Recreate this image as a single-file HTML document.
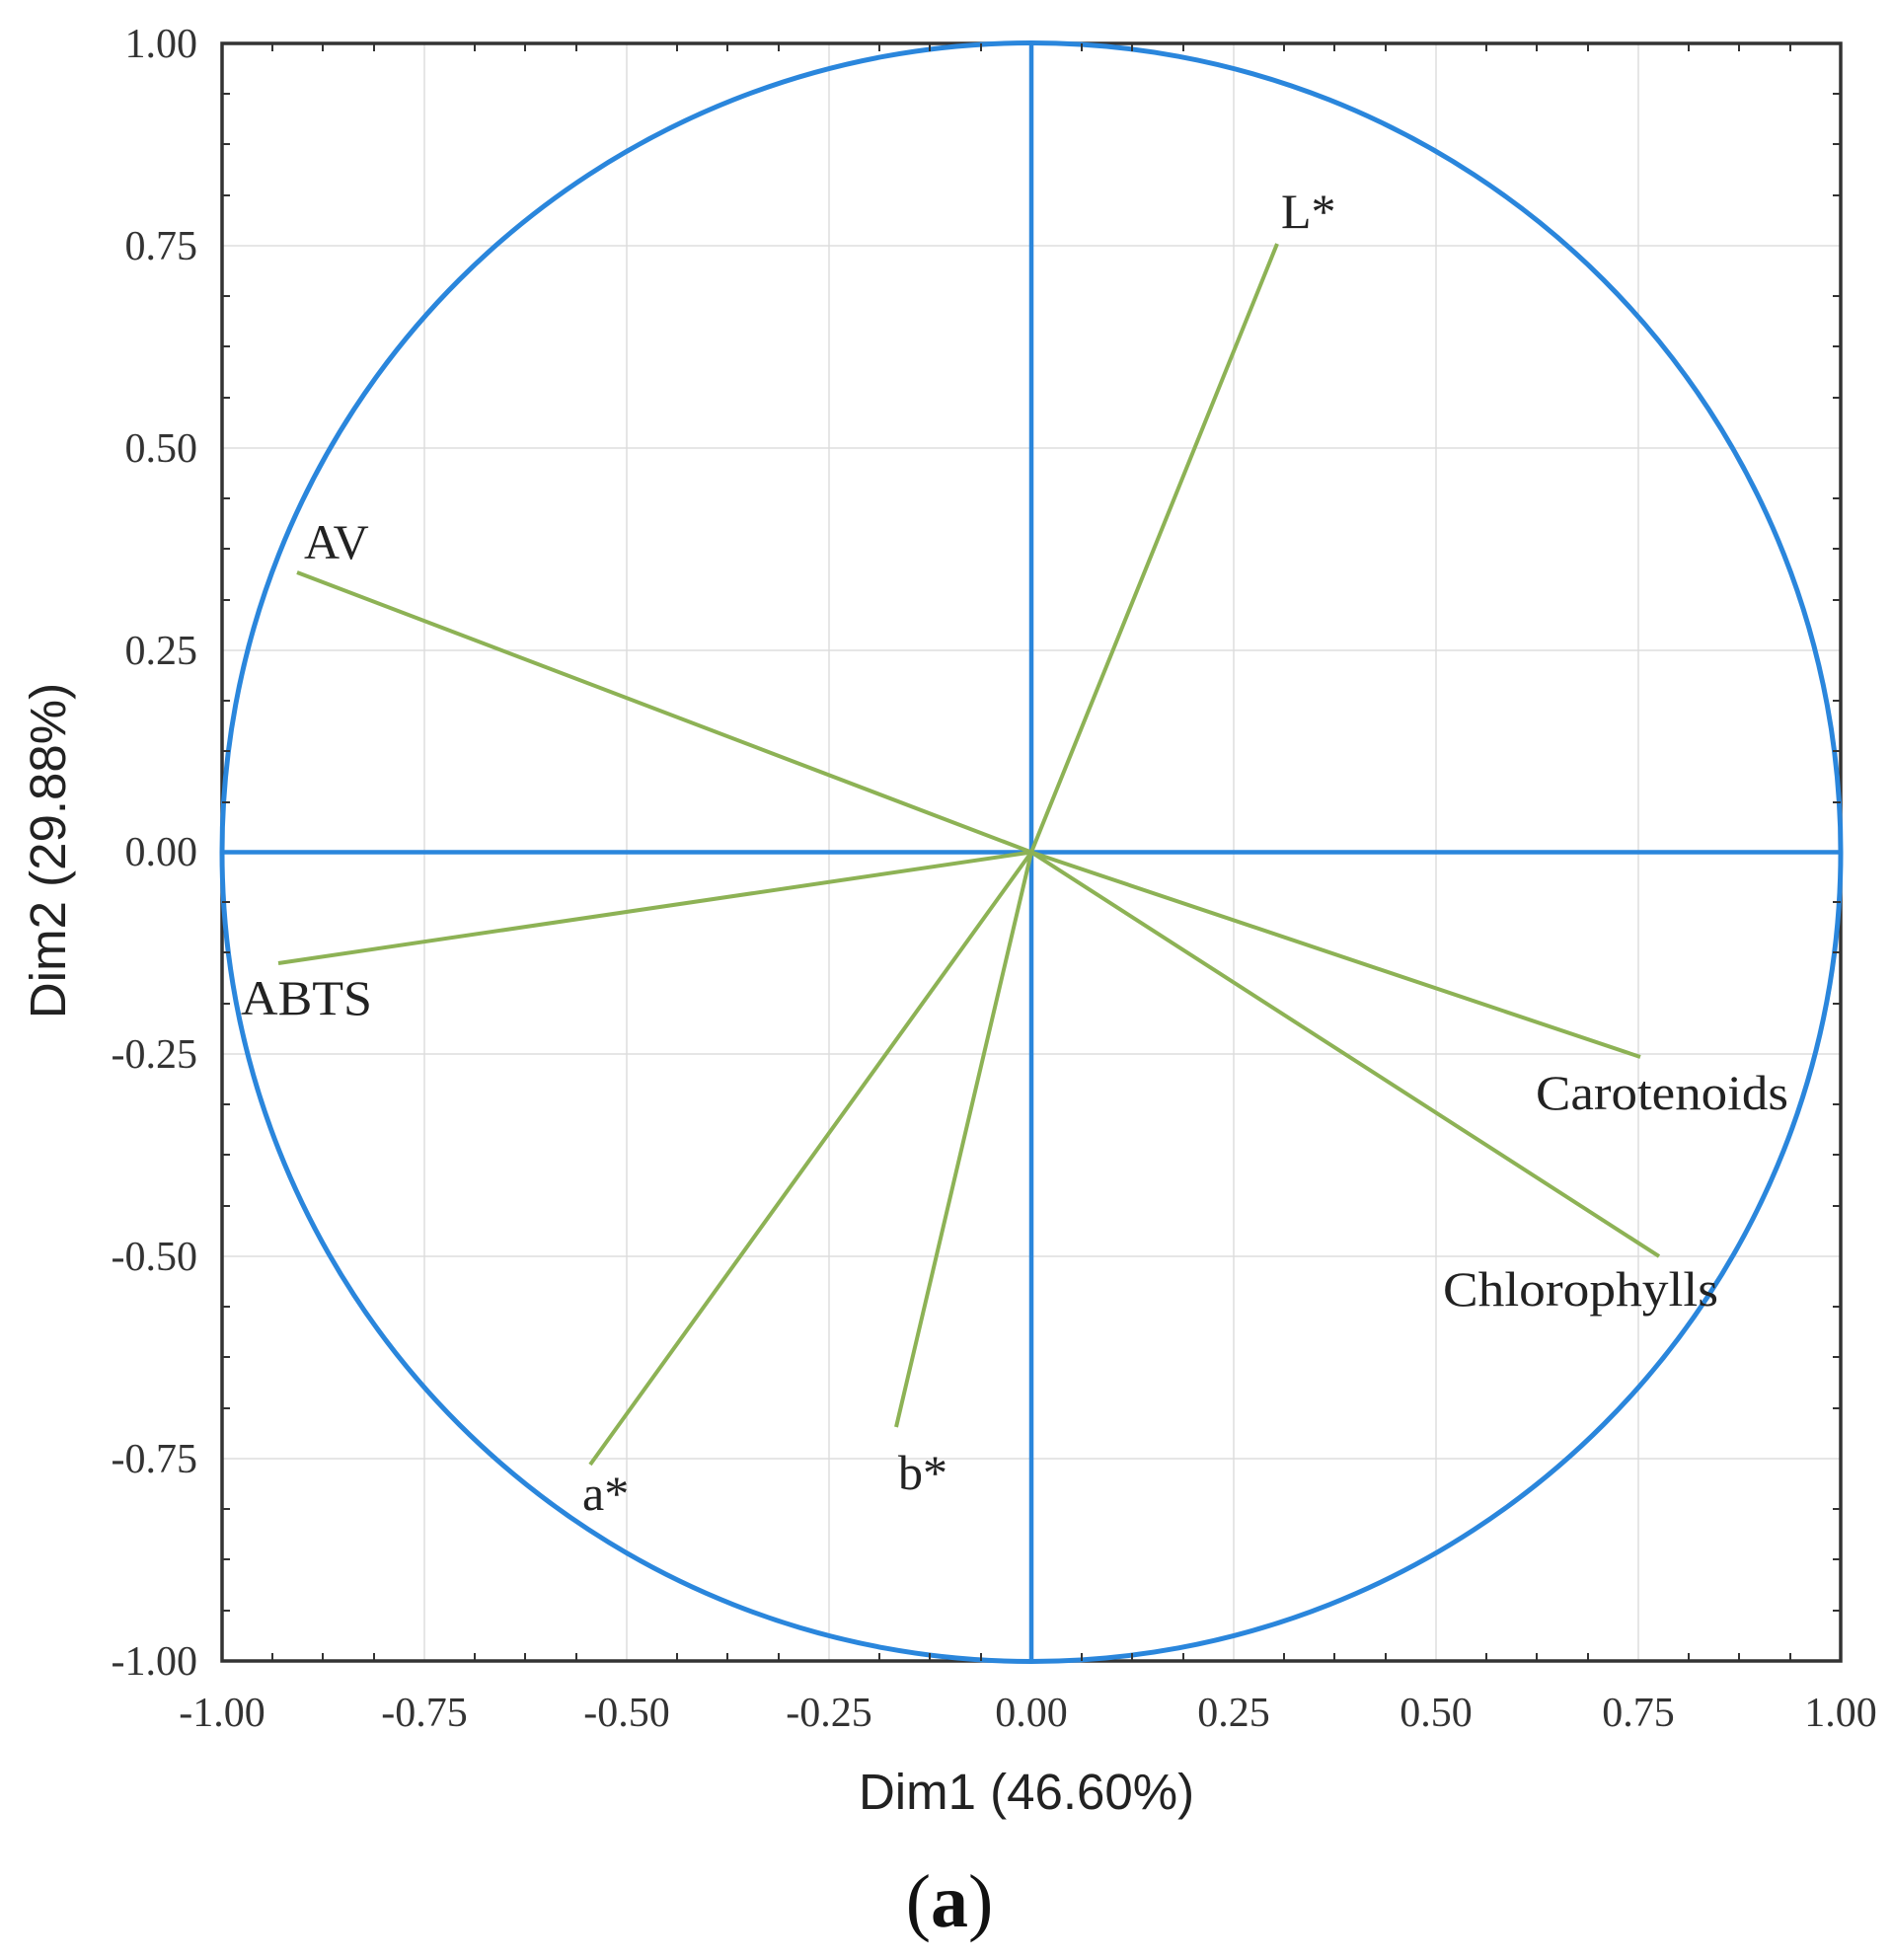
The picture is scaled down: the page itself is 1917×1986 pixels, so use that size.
<!DOCTYPE html>
<html><head><style>body{margin:0;background:#fff}svg{display:block}</style></head><body>
<svg width="1917" height="1986" viewBox="0 0 1917 1986" xmlns="http://www.w3.org/2000/svg">
<g stroke="#ddd" stroke-width="1.5">
<line x1="430" y1="44" x2="430" y2="1683"/><line x1="635" y1="44" x2="635" y2="1683"/><line x1="840" y1="44" x2="840" y2="1683"/><line x1="1250" y1="44" x2="1250" y2="1683"/><line x1="1455" y1="44" x2="1455" y2="1683"/><line x1="1660" y1="44" x2="1660" y2="1683"/>
<line x1="225" y1="249" x2="1865" y2="249"/><line x1="225" y1="454" x2="1865" y2="454"/><line x1="225" y1="659" x2="1865" y2="659"/><line x1="225" y1="1068" x2="1865" y2="1068"/><line x1="225" y1="1273" x2="1865" y2="1273"/><line x1="225" y1="1478" x2="1865" y2="1478"/>
</g>
<rect x="225" y="44" width="1640" height="1639" fill="none" stroke="#333" stroke-width="3.5"/>
<circle cx="1045" cy="863.5" r="820" fill="none" stroke="#2a86dc" stroke-width="5"/>
<line x1="1045" y1="44" x2="1045" y2="1683" stroke="#2a86dc" stroke-width="4.5"/>
<line x1="225" y1="863.5" x2="1865" y2="863.5" stroke="#2a86dc" stroke-width="4.5"/>
<g stroke="#8db255" stroke-width="4">
<line x1="1045" y1="863.5" x2="1294" y2="247"/>
<line x1="1045" y1="863.5" x2="301" y2="580"/>
<line x1="1045" y1="863.5" x2="282" y2="976"/>
<line x1="1045" y1="863.5" x2="598" y2="1484"/>
<line x1="1045" y1="863.5" x2="908" y2="1446"/>
<line x1="1045" y1="863.5" x2="1662" y2="1071"/>
<line x1="1045" y1="863.5" x2="1681" y2="1273"/>
</g>
<g font-family="Liberation Serif, serif" font-size="50" fill="#222">
<text x="1298" y="231">L*</text>
<text x="308" y="566">AV</text>
<text x="244" y="1028" textLength="133" lengthAdjust="spacingAndGlyphs">ABTS</text>
<text x="1556" y="1124" textLength="256" lengthAdjust="spacingAndGlyphs">Carotenoids</text>
<text x="1462" y="1323" textLength="279" lengthAdjust="spacingAndGlyphs">Chlorophylls</text>
<text x="590" y="1530">a*</text>
<text x="910" y="1509">b*</text>
</g>
<g font-family="Liberation Serif, serif" font-size="42" fill="#333" text-anchor="end">
<text x="200" y="58">1.00</text><text x="200" y="263">0.75</text><text x="200" y="468">0.50</text><text x="200" y="673">0.25</text><text x="200" y="877">0.00</text><text x="200" y="1082">-0.25</text><text x="200" y="1287">-0.50</text><text x="200" y="1492">-0.75</text><text x="200" y="1697">-1.00</text>
</g>
<g font-family="Liberation Serif, serif" font-size="42" fill="#333" text-anchor="middle">
<text x="225" y="1749">-1.00</text><text x="430" y="1749">-0.75</text><text x="635" y="1749">-0.50</text><text x="840" y="1749">-0.25</text><text x="1045" y="1749">0.00</text><text x="1250" y="1749">0.25</text><text x="1455" y="1749">0.50</text><text x="1660" y="1749">0.75</text><text x="1865" y="1749">1.00</text>
</g>
<text x="1040" y="1833" font-family="Liberation Sans, sans-serif" font-size="51" fill="#222" text-anchor="middle">Dim1 (46.60%)</text>
<text transform="translate(66,862) rotate(-90)" font-family="Liberation Sans, sans-serif" font-size="51" fill="#222" text-anchor="middle">Dim2 (29.88%)</text>
<text x="962" y="1952" font-family="Liberation Serif, serif" font-size="76" fill="#111" text-anchor="middle">(<tspan font-weight="bold">a</tspan>)</text>
<g stroke="#333" stroke-width="2">
<path d="M276 1683v-8M327 1683v-8M379 1683v-8M481 1683v-8M532 1683v-8M584 1683v-8M686 1683v-8M737 1683v-8M789 1683v-8M891 1683v-8M942 1683v-8M994 1683v-8M1096 1683v-8M1147 1683v-8M1199 1683v-8M1301 1683v-8M1352 1683v-8M1404 1683v-8M1506 1683v-8M1557 1683v-8M1609 1683v-8M1711 1683v-8M1762 1683v-8M1814 1683v-8"/>
<path d="M276 44v8M327 44v8M379 44v8M481 44v8M532 44v8M584 44v8M686 44v8M737 44v8M789 44v8M891 44v8M942 44v8M994 44v8M1096 44v8M1147 44v8M1199 44v8M1301 44v8M1352 44v8M1404 44v8M1506 44v8M1557 44v8M1609 44v8M1711 44v8M1762 44v8M1814 44v8"/>
<path d="M225 95h8M225 146h8M225 198h8M225 300h8M225 351h8M225 403h8M225 505h8M225 556h8M225 608h8M225 710h8M225 761h8M225 813h8M225 914h8M225 965h8M225 1017h8M225 1119h8M225 1170h8M225 1222h8M225 1324h8M225 1375h8M225 1427h8M225 1529h8M225 1580h8M225 1632h8"/>
<path d="M1865 95h-8M1865 146h-8M1865 198h-8M1865 300h-8M1865 351h-8M1865 403h-8M1865 505h-8M1865 556h-8M1865 608h-8M1865 710h-8M1865 761h-8M1865 813h-8M1865 914h-8M1865 965h-8M1865 1017h-8M1865 1119h-8M1865 1170h-8M1865 1222h-8M1865 1324h-8M1865 1375h-8M1865 1427h-8M1865 1529h-8M1865 1580h-8M1865 1632h-8"/>
</g>
</svg>
</body></html>
